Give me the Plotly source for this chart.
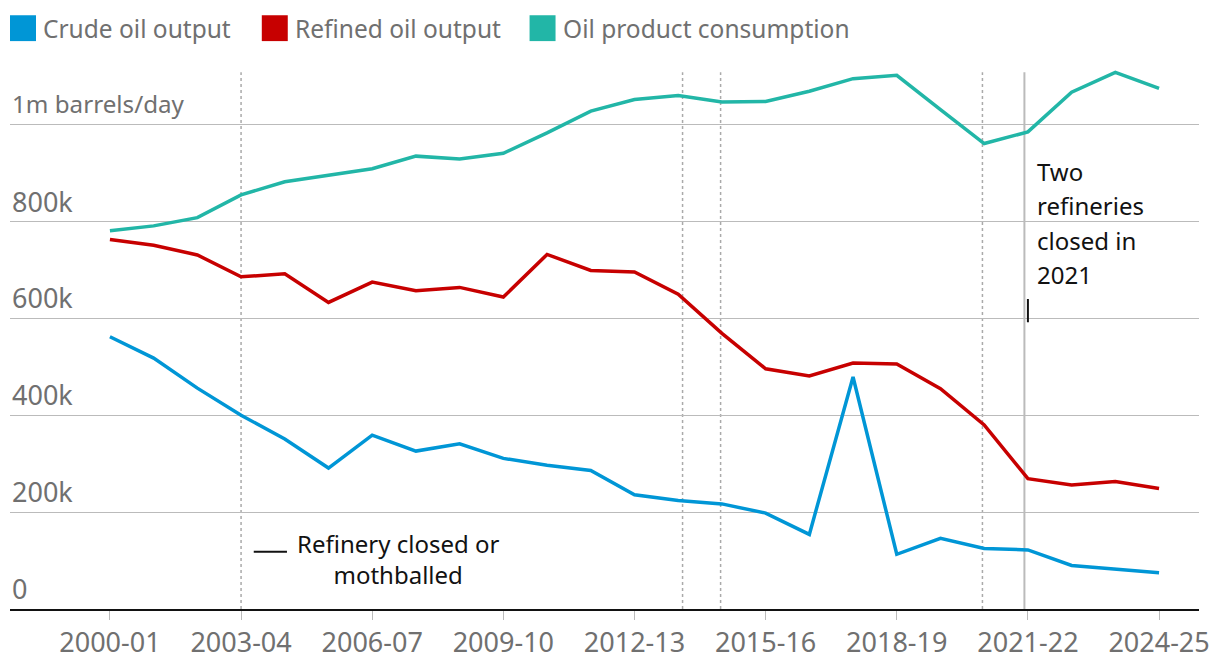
import plotly.graph_objects as go

years = ["2000-01", "2001-02", "2002-03", "2003-04", "2004-05", "2005-06", "2006-07",
         "2007-08", "2008-09", "2009-10", "2010-11", "2011-12", "2012-13", "2013-14",
         "2014-15", "2015-16", "2016-17", "2017-18", "2018-19", "2019-20", "2020-21",
         "2021-22", "2022-23", "2023-24", "2024-25"]

crude_output = [562, 518, 456, 400, 351, 291, 359, 326, 341, 311, 297, 286, 236, 224,
                217, 198, 154, 479, 113, 146, 125, 122, 90, 83, 75]
refined_output = [763, 751, 731, 686, 692, 633, 675, 657, 664, 644, 732, 699, 696, 650,
                  569, 496, 481, 508, 506, 455, 380, 269, 256, 263, 249]
consumption = [781, 791, 808, 855, 882, 896, 909, 935, 929, 941, 983, 1028, 1052, 1060,
               1047, 1048, 1069, 1095, 1102, 1031, 961, 985, 1067, 1108, 1075]

series_names = ["Crude oil output", "Refined oil output", "Oil product consumption"]
series_colors = ["#0096d6", "#c70000", "#22b6a7"]

y_tickvals = [0, 200000, 400000, 600000, 800000, 1000000]
y_ticktext = ["0", "200k", "400k", "600k", "800k", "1m barrels/day"]
x_tickvals = years[::3]

closure_positions = [3, 13.1, 13.97, 19.96]   # dotted "refinery closed" markers
highlight_position = 20.92                    # solid line, 2021 closures
note_2021_lines = ["Two", "refineries", "closed in", "2021"]

FONT = "Noto Sans"
GREY_TEXT = "#707070"
INK = "#121212"
GRID = "#bbbbbb"

# plot-area geometry (pixels) for legend placement
L, R, T, B = 10, 20, 60, 58
W, H = 1220, 670
PW, PH = W - L - R, H - T - B


def px(xp):
    return (xp - L) / PW


def py(yp):
    return (H - B - yp) / PH


fig = go.Figure()
for name, vals, col in zip(series_names, [crude_output, refined_output, consumption], series_colors):
    fig.add_trace(go.Scatter(
        x=years, y=[v * 1000 for v in vals], mode="lines", name=name,
        line=dict(color=col, width=3.5), showlegend=False, cliponaxis=False,
        hovertemplate="%{x}: %{y:,.0f}<extra>" + name + "</extra>"))

shapes = []
annotations = []
for xv in closure_positions:
    shapes.append(dict(type="line", xref="x", yref="y", x0=xv, x1=xv, y0=0, y1=1108000,
                       line=dict(color="#aaaaaa", width=1.5, dash="dot"), layer="below"))
shapes.append(dict(type="line", xref="x", yref="y", x0=highlight_position, x1=highlight_position,
                   y0=0, y1=1108000, line=dict(color="#bbbbbb", width=2), layer="below"))
# small connector tick under the 2021 note
shapes.append(dict(type="line", xref="x", yref="y", x0=21, x1=21, y0=592000, y1=640000,
                   line=dict(color=INK, width=2)))
# key line for "Refinery closed or mothballed"
shapes.append(dict(type="line", xref="x", yref="y", x0=3.29, x1=4.05, y0=118000, y1=118000,
                   line=dict(color=INK, width=2)))

for i, line_text in enumerate(note_2021_lines):
    annotations.append(dict(x=21.17, y=797000, xref="x", yref="y", xanchor="left", yanchor="middle",
                            yshift=(1.5 - i) * 34.3, text=line_text, showarrow=False, align="left",
                            font=dict(family=FONT, size=24, color=INK)))
annotations.append(dict(x=6.6, y=102700, xref="x", yref="y", xanchor="center", yanchor="middle",
                        text="Refinery closed or<br>mothballed", showarrow=False, align="center",
                        font=dict(family=FONT, size=24, color=INK)))

# y tick labels sitting above their gridlines
for val, txt in zip(y_tickvals, y_ticktext):
    big = txt != "1m barrels/day"
    annotations.append(dict(x=0, y=val, xref="paper", yref="y", xanchor="left", yanchor="bottom",
                            yshift=0 if big else 3, text=txt, showarrow=False,
                            font=dict(family=FONT, size=27 if big else 24.2, color=GREY_TEXT)))

# custom legend with large squares
legend_sq_x = [10, 262, 530]
for name, col, sx in zip(series_names, series_colors, legend_sq_x):
    shapes.append(dict(type="rect", xref="paper", yref="paper",
                       x0=px(sx), x1=px(sx + 26), y0=py(41), y1=py(15),
                       fillcolor=col, line=dict(width=0)))
    annotations.append(dict(x=px(sx + 31), y=py(28), xref="paper", yref="paper",
                            xanchor="left", yanchor="middle", text=name, showarrow=False,
                            font=dict(family=FONT, size=24.5, color=GREY_TEXT)))

fig.update_layout(
    width=W, height=H, margin=dict(l=L, r=R, t=T, b=B),
    paper_bgcolor="white", plot_bgcolor="white",
    shapes=shapes, annotations=annotations, showlegend=False,
    font=dict(family=FONT, color=GREY_TEXT),
    xaxis=dict(type="category", range=[-2.286, 24.914], tickmode="array", tickvals=x_tickvals,
               showgrid=False, showline=True, linecolor=INK, linewidth=2,
               ticks="outside", ticklen=9, tickcolor=GRID, tickwidth=1,
               tickfont=dict(family=FONT, size=27, color=GREY_TEXT), zeroline=False),
    yaxis=dict(range=[0, 1133500], tickmode="array", tickvals=y_tickvals,
               showgrid=True, gridcolor=GRID, gridwidth=1, zeroline=False, showline=False,
               ticks="", showticklabels=False),
)

fig.write_html("out.html")
